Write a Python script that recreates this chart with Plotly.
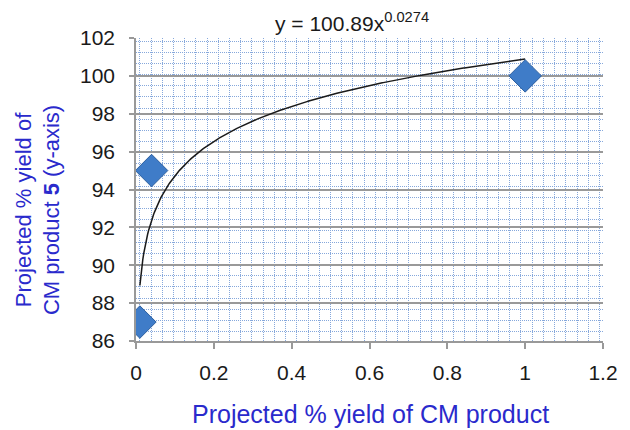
import numpy as np
import plotly.graph_objects as go

# Data
x_vals = [0.01, 0.04, 1.0]
y_vals = [87, 95, 100]

# Power trendline coefficients shown on the chart: y = a * x^b
trend_a = 100.89
trend_b = 0.0274

x_ticks = [0, 0.2, 0.4, 0.6, 0.8, 1, 1.2]
x_tick_labels = ["0", "0.2", "0.4", "0.6", "0.8", "1", "1.2"]
y_ticks = [86, 88, 90, 92, 94, 96, 98, 100, 102]

trend_x = np.linspace(min(x_vals), max(x_vals), 400)
trend_y = trend_a * trend_x ** trend_b

FONT = "Liberation Sans"
TITLE_COLOR = "#2a2acc"
MINOR = dict(showgrid=True, gridcolor="#86a8dc", griddash="1px,1px", gridwidth=1)

fig = go.Figure()
fig.add_trace(go.Scatter(x=trend_x, y=trend_y, mode="lines",
                         line=dict(color="#1a1a1a", width=1.5),
                         hoverinfo="skip", showlegend=False))
fig.add_trace(go.Scatter(x=x_vals, y=y_vals, mode="markers",
                         marker=dict(symbol="diamond", size=25, color="#3f7cc8",
                                     line=dict(color="#2d5f9e", width=1)),
                         showlegend=False))

fig.update_layout(
    width=630, height=430,
    margin=dict(l=136, r=19, t=38, b=89),
    paper_bgcolor="white", plot_bgcolor="white",
    font=dict(family=FONT, size=21, color="#1a1a1a"),
    xaxis=dict(range=[0, 1.2], tickvals=x_ticks, ticktext=x_tick_labels,
               showgrid=False, zeroline=False,
               showline=True, linecolor="#999999", linewidth=1.5,
               ticks="outside", ticklen=6, tickcolor="#999999", tickwidth=1.5,
               tickfont=dict(size=21), ticklabelstandoff=6,
               minor=dict(dtick=0.0288, tick0=0.01, **MINOR)),
    yaxis=dict(range=[86, 102], tickvals=y_ticks,
               showgrid=True, gridcolor="#999999", gridwidth=2,
               zeroline=False,
               showline=True, linecolor="#999999", linewidth=1.5,
               ticks="outside", ticklen=5, tickcolor="#999999", tickwidth=1.5,
               tickfont=dict(size=21), ticklabelstandoff=10,
               minor=dict(dtick=0.59, tick0=101.84, **MINOR)),
    annotations=[
        dict(text="y = 100.89x<sup>0.0274</sup>", xref="paper", yref="paper",
             x=0.463, y=1.0, xanchor="center", yanchor="bottom", yshift=1,
             showarrow=False, font=dict(size=21, color="#1a1a1a")),
        dict(text="Projected % yield of CM product", xref="paper", yref="paper",
             x=0.503, y=0, xanchor="center", yanchor="middle", yshift=-73,
             showarrow=False, font=dict(size=25, color=TITLE_COLOR)),
        dict(text="Projected % yield of<br>CM product <b>5</b> (y-axis)",
             xref="paper", yref="paper", x=0, y=0.432, xanchor="right",
             yanchor="middle", xshift=-69, textangle=-90, showarrow=False,
             font=dict(size=22, color=TITLE_COLOR)),
    ],
)

fig.write_html("out.html", config={"displayModeBar": False},
               post_script="document.body.style.margin='0px';")
